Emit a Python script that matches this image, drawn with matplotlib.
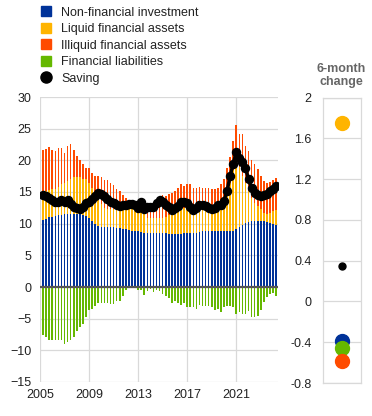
import matplotlib
matplotlib.use("Agg")
import matplotlib.pyplot as plt
from matplotlib.lines import Line2D
import numpy as np

plt.rcParams['font.family'] = ['Liberation Sans', 'DejaVu Sans']

# quarterly data, 2005Q1 .. 2024Q1 (percent)
nonfin = [10.6, 10.8, 11.0, 11.1, 11.2, 11.3, 11.4, 11.5, 11.6, 11.6,
          11.6, 11.6, 11.5, 11.4, 11.2, 10.9, 10.5, 10.0, 9.7, 9.5,
          9.4, 9.4, 9.4, 9.4, 9.3, 9.3, 9.2, 9.1, 9.0, 8.9,
          8.9, 8.8, 8.7, 8.6, 8.6, 8.5, 8.5, 8.5, 8.5, 8.5,
          8.5, 8.4, 8.4, 8.3, 8.3, 8.4, 8.5, 8.5, 8.5, 8.6,
          8.6, 8.7, 8.8, 8.8, 8.8, 8.8, 8.8, 8.8, 8.8, 8.8,
          8.8, 8.8, 8.9, 9.2, 9.5, 9.8, 10.1, 10.3, 10.5, 10.5,
          10.5, 10.5, 10.4, 10.3, 10.1, 10.0, 9.8]
liquid = [4.5, 4.4, 4.3, 4.3, 4.3, 4.5, 4.8, 5.0, 5.1, 5.4,
          5.7, 5.7, 5.8, 5.7, 5.8, 5.5, 5.2, 4.9, 4.4, 3.6,
          3.1, 2.9, 2.9, 2.9, 3.2, 3.2, 3.3, 3.4, 3.5, 3.6,
          3.6, 3.7, 3.5, 3.4, 2.3, 2.4, 2.4, 2.4, 2.4, 2.4,
          2.6, 2.9, 3.1, 3.4, 3.6, 3.7, 3.9, 3.9, 3.9, 3.8,
          3.8, 3.7, 3.6, 3.6, 3.6, 3.6, 3.6, 3.6, 3.7, 4.2,
          6.1, 7.7, 9.6, 10.9, 9.5, 7.7, 6.4, 4.9, 3.6, 2.8,
          2.3, 1.8, 1.3, 1.2, 1.6, 2.0, 2.4]
illiquid = [6.6, 6.6, 6.8, 6.3, 5.9, 6.1, 5.7, 4.7, 5.6, 5.5,
            4.4, 3.4, 2.8, 2.4, 1.8, 2.4, 2.3, 2.6, 3.4, 4.2,
            4.4, 4.6, 4.1, 3.8, 2.9, 2.7, 2.0, 1.5, 1.0, 0.7,
            0.5, 0.3, 0.3, 0.3, 0.8, 1.3, 1.9, 2.6, 3.1, 3.6,
            3.3, 3.4, 3.3, 3.5, 3.7, 4.1, 3.6, 3.8, 3.8, 3.3,
            3.3, 3.4, 3.3, 3.2, 3.2, 3.1, 3.0, 3.2, 3.7, 4.0,
            3.9, 4.0, 4.5, 5.5, 5.2, 6.6, 5.8, 6.2, 6.0, 6.1,
            5.8, 5.2, 5.1, 4.9, 4.8, 4.9, 5.0]
liabilities = [-7.5, -7.9, -8.3, -8.3, -8.3, -8.3, -8.3, -9.0, -8.7, -8.4,
               -7.9, -7.0, -6.3, -5.8, -4.8, -3.6, -3.4, -3.0, -2.6, -2.5,
               -2.5, -2.6, -2.7, -2.7, -2.2, -2.2, -1.4, -0.5, 0.0, 0.0,
               0.0, -0.5, -0.4, -1.2, -0.6, -0.3, -0.8, -0.4, -0.6, -1.1,
               -1.4, -1.8, -2.5, -2.2, -2.6, -2.9, -2.5, -3.1, -3.1, -3.1,
               -3.4, -2.9, -3.0, -3.0, -3.0, -3.1, -3.6, -3.4, -3.9, -3.1,
               -3.0, -3.0, -3.1, -4.3, -4.0, -4.3, -4.2, -3.8, -4.7, -4.7,
               -4.5, -3.6, -2.4, -1.5, -1.1, -0.9, -1.4]
saving = [14.5, 14.4, 14.1, 13.7, 13.5, 13.5, 13.8, 13.5, 13.8, 13.1,
          12.7, 12.5, 12.3, 12.6, 13.2, 13.5, 13.9, 14.3, 14.8, 14.7,
          14.3, 13.9, 13.5, 13.2, 13.0, 12.8, 12.9, 13.0, 13.1, 13.1,
          12.9, 12.5, 13.5, 12.3, 12.6, 12.7, 12.7, 13.3, 13.7, 13.4,
          13.0, 12.6, 12.1, 12.5, 12.8, 13.4, 13.4, 13.3, 12.7, 12.2,
          12.5, 12.9, 12.9, 12.8, 12.5, 12.3, 12.5, 12.9, 13.0, 13.6,
          15.2, 17.5, 19.5, 21.3, 20.3, 19.7, 18.8, 17.0, 15.6, 14.9,
          14.6, 14.4, 14.5, 14.7, 15.2, 15.5, 15.9]

# 6-month change
chg_labels = ['Non-financial investment', 'Financial liabilities',
              'Illiquid financial assets', 'Liquid financial assets', 'Saving']
chg_values = [-0.39, -0.455, -0.58, 1.75, 0.345]

c_blue = '#003299'
c_yellow = '#ffb400'
c_orange = '#ff4b00'
c_green = '#65b800'
grid_c = '#d9d9d9'
txt_c = '#222222'

x = 2005 + (np.arange(len(nonfin)) + 1) / 4.0
nonfin = np.array(nonfin)
liquid = np.array(liquid)
illiquid = np.array(illiquid)

fig = plt.figure(figsize=(3.72, 4.16), dpi=100)
ax = fig.add_axes([40/372, 34/416, 238/372, 285/416])
w = 0.13
ax.bar(x, nonfin, width=w, color=c_blue, zorder=2)
ax.bar(x, liquid, width=w, bottom=nonfin, color=c_yellow, zorder=2)
ax.bar(x, illiquid, width=w, bottom=nonfin + liquid, color=c_orange, zorder=2)
ax.bar(x, liabilities, width=w, color=c_green, zorder=2)
ax.axhline(0, color='#555555', lw=1.6, zorder=3)
ax.plot(x, saving, color='black', lw=2.5, marker='o', ms=5.8, zorder=4)

ax.set_xlim(2005, 2024.4)
ax.set_ylim(-15, 30)
ax.set_yticks(range(-15, 31, 5))
ax.set_xticks([2005, 2009, 2013, 2017, 2021])
ax.grid(True, color=grid_c, lw=0.9, zorder=0)
for s in ax.spines.values():
    s.set_visible(False)
ax.tick_params(length=0, labelsize=9, colors=txt_c, pad=6)
ax.tick_params(axis='x', pad=5)

# right panel
ax2 = fig.add_axes([322.5/372, 33/416, 38/372, 285.5/416])
order = [0, 1, 2, 3]
cols = [c_blue, c_green, c_orange, c_yellow]
for i, c in zip(order, cols):
    ax2.plot(0, chg_values[i], 'o', color=c, ms=10, zorder=3)
ax2.plot(0, chg_values[4], 'o', color='black', ms=5, zorder=3)
ax2.set_xlim(-1, 1)
ax2.set_ylim(-0.8, 2)
ax2.set_yticks([-0.8, -0.4, 0, 0.4, 0.8, 1.2, 1.6, 2])
ax2.set_yticklabels(['-0.8', '-0.4', '0', '0.4', '0.8', '1.2', '1.6', '2'])
ax2.set_xticks([])
ax2.grid(True, axis='y', color=grid_c, lw=0.9, zorder=0)
for s in ax2.spines.values():
    s.set_color(grid_c)
    s.set_linewidth(0.9)
ax2.tick_params(length=0, labelsize=9, colors=txt_c, pad=8)
ax2.set_title('6-month\nchange', fontsize=9, fontweight='bold',
              color='#666666', pad=9, linespacing=1.15)

handles = [
    Line2D([], [], ls='none', marker='s', ms=7, color=c_blue),
    Line2D([], [], ls='none', marker='s', ms=7, color=c_yellow),
    Line2D([], [], ls='none', marker='s', ms=7, color=c_orange),
    Line2D([], [], ls='none', marker='s', ms=7, color=c_green),
    Line2D([], [], ls='none', marker='o', ms=8, color='black'),
]
labels = ['Non-financial investment', 'Liquid financial assets',
          'Illiquid financial assets', 'Financial liabilities', 'Saving']
fig.legend(handles, labels, loc='upper left', bbox_to_anchor=(31/372, 1 + 2/416),
           frameon=False, fontsize=9, handlelength=1.0, handletextpad=0.7,
           labelspacing=0.36, borderpad=0.2, labelcolor=txt_c)

fig.savefig('out.png', dpi=100)
